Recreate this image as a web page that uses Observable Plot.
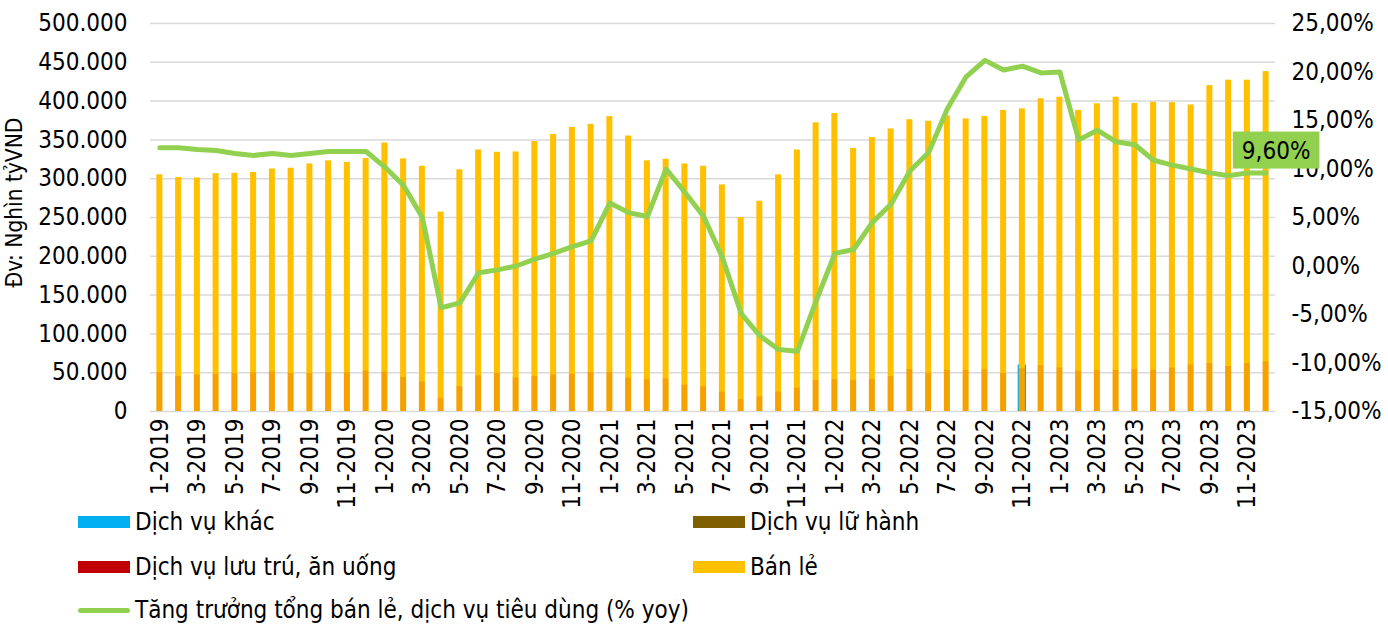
<!DOCTYPE html>
<html><head><meta charset="utf-8">
<script src="https://cdn.jsdelivr.net/npm/d3@7"></script>
<script src="https://cdn.jsdelivr.net/npm/@observablehq/plot@0.6"></script>
<style>
body{margin:0;background:#fff;font-family:"DejaVu Sans Condensed","DejaVu Sans",sans-serif;font-stretch:condensed;}
#wrap{position:relative;width:1388px;height:625px;overflow:hidden;}
#chart{position:absolute;left:0;top:0;}
#chart svg text{font-stretch:condensed;}
.lg{position:absolute;font-size:24px;color:#000;display:flex;align-items:center;white-space:nowrap;height:26px;}
.sw{width:52px;height:12px;margin-right:5px;flex:none}
.ln{width:52px;height:5px;margin-right:5px;border-radius:3px;flex:none}
</style></head><body><div id="wrap"><div id="chart"></div></div>
<script>
const months = ["1-2019","2-2019","3-2019","4-2019","5-2019","6-2019","7-2019","8-2019","9-2019","10-2019","11-2019","12-2019",
"1-2020","2-2020","3-2020","4-2020","5-2020","6-2020","7-2020","8-2020","9-2020","10-2020","11-2020","12-2020",
"1-2021","2-2021","3-2021","4-2021","5-2021","6-2021","7-2021","8-2021","9-2021","10-2021","11-2021","12-2021",
"1-2022","2-2022","3-2022","4-2022","5-2022","6-2022","7-2022","8-2022","9-2022","10-2022","11-2022","12-2022",
"1-2023","2-2023","3-2023","4-2023","5-2023","6-2023","7-2023","8-2023","9-2023","10-2023","11-2023","12-2023"];
// Bán lẻ (nghìn tỷ VND)
const banLe = [305000,301500,301000,306500,307000,308000,312500,313500,319000,323000,321000,326000,
346000,325500,316000,257000,311500,337000,334000,334500,348000,357000,366000,370000,
380000,355000,323000,325000,319000,316000,292000,250000,271000,305000,337000,372000,
384000,339000,353000,364000,376000,374000,381000,377000,380000,388000,390000,403000,
405000,388000,396500,405000,397000,398500,398000,395000,420000,427000,427000,438000];
// Dịch vụ lưu trú, ăn uống
const luuTru = [50000,45000,47000,48000,49000,50000,51000,49000,49000,50000,50000,52000,
51000,44000,38000,17000,32000,46000,49000,43000,45000,47000,48000,50000,
50000,43000,41000,42000,34000,32000,25000,15000,19000,25000,30000,40000,
41000,40000,41000,45000,54000,49000,53000,53000,54000,49000,55000,59000,
56000,52000,53000,53000,54000,53000,56000,60000,62000,58000,62000,64000];
// Dịch vụ khác (only visible where it exceeds the other bars)
const khac = {"11-2022": 60000};
// Tăng trưởng (% yoy)
const growth = [12.2,12.2,12.0,11.9,11.6,11.4,11.6,11.4,11.6,11.8,11.8,11.8,
10.2,8.3,5.0,-4.3,-3.8,-0.7,-0.4,0.0,0.7,1.3,2.0,2.6,
6.5,5.5,5.1,10.0,7.6,5.1,0.9,-4.9,-7.2,-8.6,-8.8,-3.6,
1.3,1.7,4.5,6.4,9.8,11.7,16.2,19.5,21.2,20.2,20.6,19.9,
20.0,13.0,14.0,12.8,12.5,10.9,10.4,10.0,9.6,9.3,9.6,9.6];
const leftTicks = [0,50000,100000,150000,200000,250000,300000,350000,400000,450000,500000];
const pctTicks = [-15,-10,-5,0,5,10,15,20,25];
const xTicks = ["1-2019","3-2019","5-2019","7-2019","9-2019","11-2019","1-2020","3-2020","5-2020","7-2020","9-2020","11-2020",
"1-2021","3-2021","5-2021","7-2021","9-2021","11-2021","1-2022","3-2022","5-2022","7-2022","9-2022","11-2022",
"1-2023","3-2023","5-2023","7-2023","9-2023","11-2023"];
const lastLabel = "9,60%";

const loc = d3.formatLocale({decimal:",", thousands:".", grouping:[3], currency:["",""], minus:"-"});
const fmtN = loc.format(",.0f");
const fmtP = loc.format(".2f");
// secondary axis mapping: [-15%, 25%] -> [0, 500000]
const pMin = -15, pMax = 25, yMax = 500000;
const toLeft = p => (p - pMin) / (pMax - pMin) * yMax;
const fromLeft = v => v / yMax * (pMax - pMin) + pMin;

const data = months.map((m,i) => ({m, banLe: banLe[i], luuTru: luuTru[i], g: growth[i], gy: toLeft(growth[i])}));
const khacData = Object.entries(khac).map(([m,v]) => ({m, v}));
const last = data[data.length-1];
const FS = 24;

const chart = Plot.plot({
  width: 1388, height: 522,
  marginLeft: 150, marginRight: 113, marginTop: 23, marginBottom: 111,
  style: {fontFamily: "'DejaVu Sans Condensed', 'DejaVu Sans', sans-serif", fontSize: FS + "px", color: "#000", background: "transparent"},
  x: {domain: months, paddingInner: 0.68, paddingOuter: 0.34, axis: null},
  y: {domain: [0, yMax], axis: null},
  marks: [
    Plot.ruleY(leftTicks, {stroke: "#d9d9d9", strokeWidth: 1.5}),
    Plot.barY(khacData, {x: "m", y: "v", fill: "#00B0F0", insetLeft: -1.2, insetRight: -1.2}),
    Plot.barY(data, {x: "m", y: "banLe", fill: "#FFC000"}),
    Plot.barY(data, {x: "m", y: "luuTru", fill: "#C00000", fillOpacity: 0.16}),
    Plot.line(data, {x: "m", y: "gy", stroke: "#92D050", strokeWidth: 5, strokeLinejoin: "round", strokeLinecap: "round"}),
    Plot.axisY({anchor: "left", ticks: leftTicks, tickFormat: fmtN, tickSize: 0, tickPadding: 23, label: null, fontSize: FS}),
    Plot.axisY({anchor: "right", ticks: pctTicks.map(toLeft), tickFormat: v => fmtP(Math.round(fromLeft(v))) + "%", tickSize: 0, tickPadding: 16, label: null, fontSize: FS}),
    Plot.axisX({ticks: xTicks, tickRotate: -90, tickSize: 0, tickPadding: 7, label: null, fontSize: FS}),
    Plot.text([0], {frameAnchor: "left", text: () => "Đv: Nghìn tỷVND", rotate: -90, textAnchor: "middle", lineAnchor: "middle", dx: -136, dy: -15, fontSize: 22.5, fill: "#000"}),
    Plot.text([last], {x: "m", y: "gy", text: () => lastLabel, dx: 10, dy: -22, fontSize: FS, fill: "#000"})
  ]
});
document.getElementById("chart").appendChild(chart);

// green background box behind the data label
const lt = Array.from(chart.querySelectorAll("text")).find(t => t.textContent === lastLabel);
if (lt) {
  const bb = lt.getBBox();
  const r = document.createElementNS("http://www.w3.org/2000/svg", "rect");
  r.setAttribute("x", bb.x - 9); r.setAttribute("y", bb.y - 5);
  r.setAttribute("width", bb.width + 18); r.setAttribute("height", bb.height + 9);
  r.setAttribute("fill", "#92D050");
  const tf = lt.getAttribute("transform");
  if (tf) r.setAttribute("transform", tf);
  lt.parentNode.insertBefore(r, lt);
}

// legend
const legendItems = [
  {label: "Dịch vụ khác", color: "#00B0F0", x: 78, y: 509, type: "sw"},
  {label: "Dịch vụ lữ hành", color: "#7F6000", x: 693, y: 509, type: "sw"},
  {label: "Dịch vụ lưu trú, ăn uống", color: "#C00000", x: 78, y: 554, type: "sw"},
  {label: "Bán lẻ", color: "#FFC000", x: 693, y: 554, type: "sw"},
  {label: "Tăng trưởng tổng bán lẻ, dịch vụ tiêu dùng (% yoy)", color: "#92D050", x: 78, y: 597, type: "ln"}
];
const wrap = document.getElementById("wrap");
for (const it of legendItems) {
  const d = document.createElement("div");
  d.className = "lg"; d.style.left = it.x + "px"; d.style.top = it.y + "px";
  const s = document.createElement("div"); s.className = it.type; s.style.background = it.color;
  const t = document.createElement("span"); t.textContent = it.label;
  d.appendChild(s); d.appendChild(t); wrap.appendChild(d);
}
</script></body></html>
